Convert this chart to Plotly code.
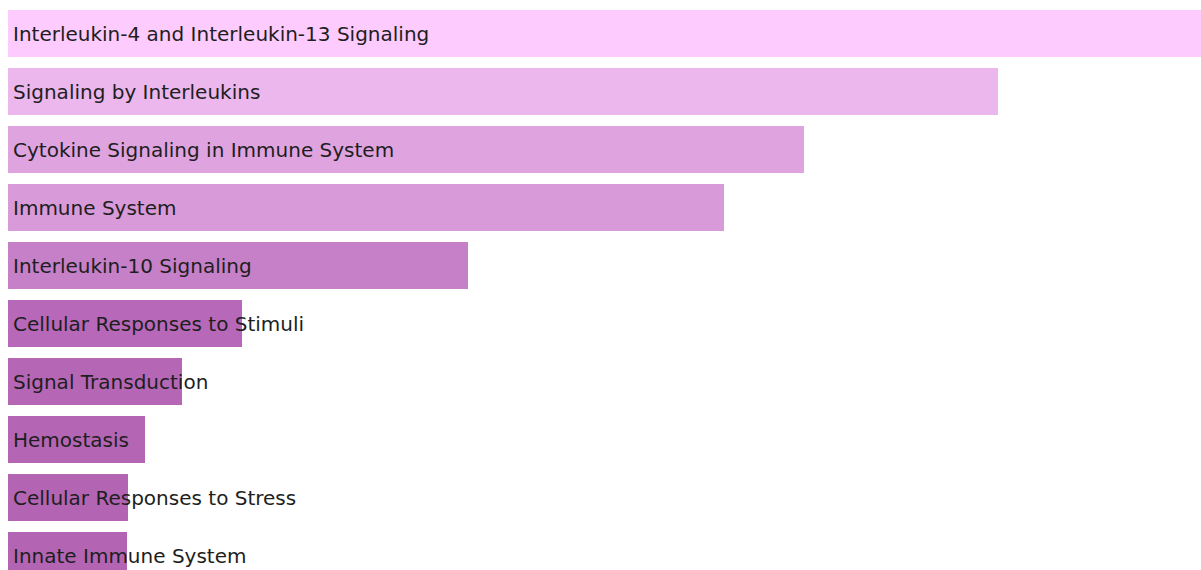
import plotly.graph_objects as go

terms = [
    "Interleukin-4 and Interleukin-13 Signaling",
    "Signaling by Interleukins",
    "Cytokine Signaling in Immune System",
    "Immune System",
    "Interleukin-10 Signaling",
    "Cellular Responses to Stimuli",
    "Signal Transduction",
    "Hemostasis",
    "Cellular Responses to Stress",
    "Innate Immune System",
]
scores = [11.93, 9.90, 7.96, 7.16, 4.60, 2.34, 1.74, 1.37, 1.20, 1.19]
colors = ["#FDCBFD", "#EBB7EC", "#DFA4DF", "#D89AD8", "#C680C7",
          "#B768B8", "#B567B6", "#B466B5", "#B365B4", "#B365B4"]

fig = go.Figure()
fig.add_trace(go.Bar(
    x=scores, y=terms, orientation="h",
    marker=dict(color=colors, line=dict(width=0)),
    hoverinfo="skip",
))
for t in terms:
    fig.add_annotation(x=0, y=t, text=t, showarrow=False, xanchor="left",
                       xshift=3, yshift=0,
                       font=dict(family="DejaVu Sans", size=20, color="#1e1e1e"))

fig.update_layout(
    width=1201, height=570,
    margin=dict(l=8, r=0, t=0, b=0),
    paper_bgcolor="white", plot_bgcolor="white",
    bargap=0.19, showlegend=False,
)
fig.update_xaxes(range=[0, max(scores)], visible=False, showgrid=False, zeroline=False)
fig.update_yaxes(type="category", range=[9.25, -0.578], visible=False, showgrid=False)
fig.write_html(
    "out.html",
    config={"displayModeBar": False, "staticPlot": True},
    post_script="document.body.style.margin='0';document.body.style.overflow='hidden';",
)
